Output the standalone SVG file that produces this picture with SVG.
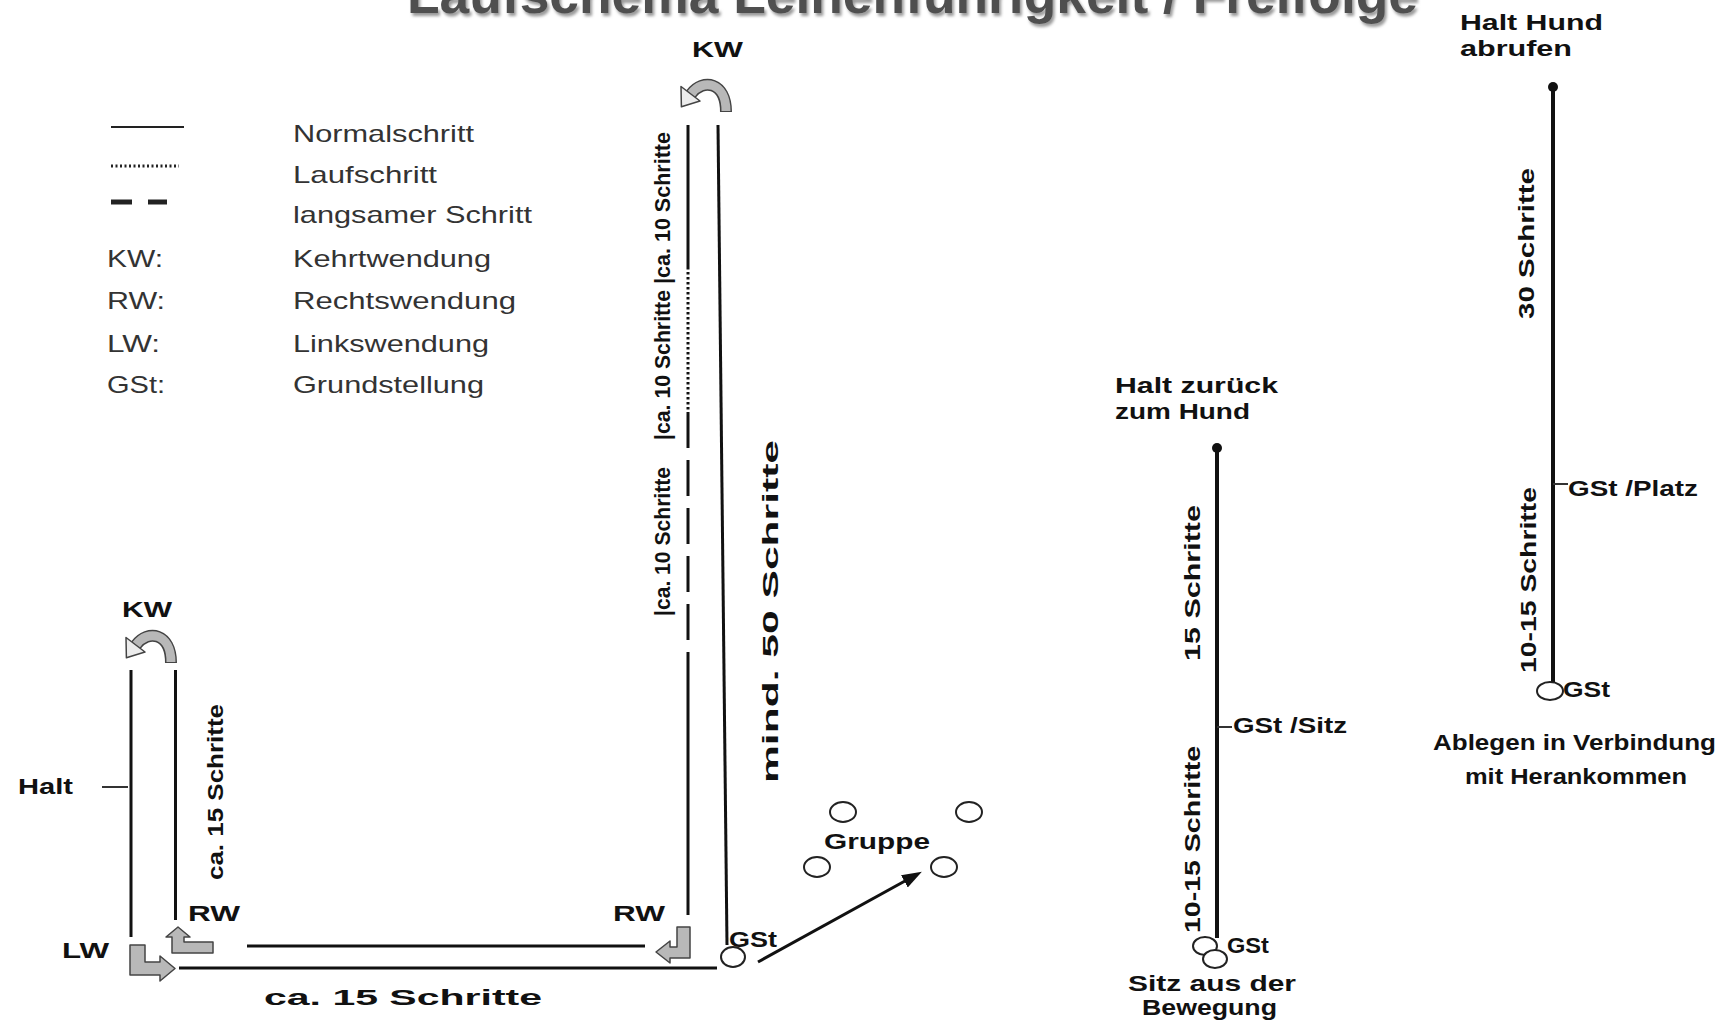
<svg xmlns="http://www.w3.org/2000/svg" width="1724" height="1021" viewBox="0 0 1724 1021">
<style>
.ln{stroke:#111;stroke-width:3;fill:none}
.thk{stroke:#111;stroke-width:4;fill:none}
.tick{stroke:#333;stroke-width:2;fill:none}
.b{font-family:"Liberation Sans",Arial,sans-serif;font-weight:bold;fill:#111;font-size:22px}
.leg{font-family:"Liberation Sans",Arial,sans-serif;fill:#333;font-size:24px}
.turn{fill:#b8b8b8;stroke:#444;stroke-width:1.5;stroke-linejoin:round}
.circ{fill:#fff;stroke:#222;stroke-width:2}
</style>
<defs>
<filter id="sh" x="-5%" y="-50%" width="110%" height="200%"><feDropShadow dx="2" dy="3" stdDeviation="1.5" flood-color="#999"/></filter>
<marker id="ah" markerUnits="userSpaceOnUse" markerWidth="20" markerHeight="16" refX="11" refY="8" orient="auto"><path d="M0,1 L20,8 L0,15 Z" fill="#111"/></marker>
<g id="uturn">
<path d="M53,30 C53,0 30,-4 18,12" fill="none" stroke="#444" stroke-width="12"/>
<path d="M53,29 C53,0 30,-4 18,12" fill="none" stroke="#b8b8b8" stroke-width="9"/>
<path d="M27,19 L8.4,24.8 L8,4.5 Z" fill="#ececec" stroke="#444" stroke-width="1.5" stroke-linejoin="round"/>
</g>
</defs>
<rect width="1724" height="1021" fill="#fff"/>

<g id="title"><text x="407" y="13" font-family="Liberation Sans, Arial, sans-serif" font-weight="bold" font-size="53" fill="#505050" textLength="1011" lengthAdjust="spacingAndGlyphs" filter="url(#sh)">Laufschema Leinenführigkeit / Freifolge</text></g>

<g id="legend">
<line x1="111" y1="127" x2="184" y2="127" stroke="#222" stroke-width="2"/>
<line x1="111" y1="166" x2="179" y2="166" stroke="#222" stroke-width="3" stroke-dasharray="2 2.5"/>
<line x1="111" y1="202" x2="132" y2="202" stroke="#222" stroke-width="5"/>
<line x1="148" y1="202" x2="167" y2="202" stroke="#222" stroke-width="5"/>
<text class="leg" x="293" y="142" textLength="181" lengthAdjust="spacingAndGlyphs">Normalschritt</text>
<text class="leg" x="293" y="183" textLength="144" lengthAdjust="spacingAndGlyphs">Laufschritt</text>
<text class="leg" x="293" y="223" textLength="239" lengthAdjust="spacingAndGlyphs">langsamer Schritt</text>
<text class="leg" x="107" y="267" textLength="56" lengthAdjust="spacingAndGlyphs">KW:</text>
<text class="leg" x="293" y="267" textLength="198" lengthAdjust="spacingAndGlyphs">Kehrtwendung</text>
<text class="leg" x="107" y="309" textLength="58" lengthAdjust="spacingAndGlyphs">RW:</text>
<text class="leg" x="293" y="309" textLength="223" lengthAdjust="spacingAndGlyphs">Rechtswendung</text>
<text class="leg" x="107" y="352" textLength="53" lengthAdjust="spacingAndGlyphs">LW:</text>
<text class="leg" x="293" y="352" textLength="196" lengthAdjust="spacingAndGlyphs">Linkswendung</text>
<text class="leg" x="107" y="393" textLength="58" lengthAdjust="spacingAndGlyphs">GSt:</text>
<text class="leg" x="293" y="393" textLength="191" lengthAdjust="spacingAndGlyphs">Grundstellung</text>
</g>

<g id="connectors">
<path class="ln" d="M688,125 V267" stroke-width="3.5"/>
<path class="ln" d="M688,267 V412" stroke-width="3.5" stroke-dasharray="2.5 2.5"/>
<path class="ln" d="M688,412 V652" stroke-width="4" stroke-dasharray="36 12"/>
<path class="ln" d="M688,652 V915"/>
<path class="ln" d="M718,125 L727,945"/>
<path class="ln" d="M131,670 V937"/>
<path class="ln" d="M175.5,670 V920"/>
<path class="ln" d="M247,946 H645"/>
<path class="ln" d="M179,968 H717"/>
<path class="tick" d="M102,787 H128"/>
<path class="ln" d="M758,962 L914,876" stroke-width="2.5" marker-end="url(#ah)"/>
<path class="thk" d="M1217,448 V938"/>
<path class="tick" d="M1217,727 H1232"/>
<path class="thk" d="M1553,87 V682"/>
<path class="tick" d="M1553,484 H1568"/>
</g>

<g id="kw-middle">
<use href="#uturn" x="673" y="82"/>
<text class="b" x="692" y="57" textLength="51" lengthAdjust="spacingAndGlyphs">KW</text>
</g>
<g id="kw-left">
<use href="#uturn" x="118" y="633"/>
<text class="b" x="122" y="617" textLength="50" lengthAdjust="spacingAndGlyphs">KW</text>
</g>
<g id="halt"><text class="b" x="18" y="794" textLength="55" lengthAdjust="spacingAndGlyphs">Halt</text></g>
<g id="lw">
<path class="turn" d="M130,945 H145 V962 H160 V956 L175,968.5 L160,981 V975 H130 Z"/>
<text class="b" x="62" y="958" textLength="47" lengthAdjust="spacingAndGlyphs">LW</text>
</g>
<g id="rw-left">
<path class="turn" d="M178,927 L190,937 H184 V942 H213 V953 H172 V937 H166 Z"/>
<text class="b" x="188" y="921" textLength="52" lengthAdjust="spacingAndGlyphs">RW</text>
</g>
<g id="rw-right">
<path class="turn" d="M677,927 H690 V958 H670 V963 L656,952 L670,941 V947 H677 Z"/>
<text class="b" x="613" y="921" textLength="52" lengthAdjust="spacingAndGlyphs">RW</text>
</g>
<g id="label-left-loop"><text class="b" font-size="33" transform="translate(223,880) rotate(-90)" textLength="176" lengthAdjust="spacingAndGlyphs">ca. 15 Schritte</text></g>
<g id="label-bottom"><text class="b" font-size="28" x="264" y="1005" textLength="278" lengthAdjust="spacingAndGlyphs">ca.  15 Schritte</text></g>
<g id="labels-middle">
<text class="b" font-size="25" transform="translate(670,284) rotate(-90)" textLength="152" lengthAdjust="spacingAndGlyphs">|ca. 10 Schritte</text>
<text class="b" font-size="25" transform="translate(670,440) rotate(-90)" textLength="150" lengthAdjust="spacingAndGlyphs">|ca. 10 Schritte</text>
<text class="b" font-size="25" transform="translate(670,616) rotate(-90)" textLength="149" lengthAdjust="spacingAndGlyphs">|ca. 10 Schritte</text>
<text class="b" font-size="42" transform="translate(778,783) rotate(-90)" textLength="343" lengthAdjust="spacingAndGlyphs">mind. 50 Schritte</text>
</g>
<g id="gst-middle">
<ellipse class="circ" cx="733" cy="957" rx="12" ry="10"/>
<text class="b" x="729" y="947" textLength="48" lengthAdjust="spacingAndGlyphs">GSt</text>
</g>
<g id="gruppe">
<ellipse class="circ" cx="843" cy="812" rx="13" ry="10"/>
<ellipse class="circ" cx="969" cy="812" rx="13" ry="10"/>
<ellipse class="circ" cx="817" cy="867" rx="13" ry="10"/>
<ellipse class="circ" cx="944" cy="867" rx="13" ry="10"/>
<text class="b" font-size="23" x="824" y="849" textLength="106" lengthAdjust="spacingAndGlyphs">Gruppe</text>
</g>

<g id="sitz">
<circle cx="1217" cy="448" r="5" fill="#111"/>
<text class="b" x="1115" y="393" textLength="163" lengthAdjust="spacingAndGlyphs">Halt zurück</text>
<text class="b" x="1115" y="419" textLength="135" lengthAdjust="spacingAndGlyphs">zum Hund</text>
<text class="b" font-size="34" transform="translate(1200,661) rotate(-90)" textLength="156" lengthAdjust="spacingAndGlyphs">15 Schritte</text>
<text class="b" x="1233" y="733" textLength="114" lengthAdjust="spacingAndGlyphs">GSt /Sitz</text>
<text class="b" font-size="34" transform="translate(1200,933) rotate(-90)" textLength="187" lengthAdjust="spacingAndGlyphs">10-15 Schritte</text>
<ellipse class="circ" cx="1205" cy="946" rx="12" ry="9"/>
<ellipse class="circ" cx="1215" cy="959" rx="12" ry="9"/>
<text class="b" x="1227" y="953" textLength="42" lengthAdjust="spacingAndGlyphs">GSt</text>
<text class="b" font-size="23" x="1128" y="991" textLength="168" lengthAdjust="spacingAndGlyphs">Sitz aus der</text>
<text class="b" font-size="23" x="1142" y="1015" textLength="135" lengthAdjust="spacingAndGlyphs">Bewegung</text>
</g>

<g id="ablegen">
<circle cx="1553" cy="87" r="5" fill="#111"/>
<text class="b" x="1460" y="30" textLength="143" lengthAdjust="spacingAndGlyphs">Halt Hund</text>
<text class="b" x="1460" y="56" textLength="112" lengthAdjust="spacingAndGlyphs">abrufen</text>
<text class="b" font-size="34" transform="translate(1534,319) rotate(-90)" textLength="151" lengthAdjust="spacingAndGlyphs">30 Schritte</text>
<text class="b" x="1568" y="496" textLength="130" lengthAdjust="spacingAndGlyphs">GSt /Platz</text>
<text class="b" font-size="34" transform="translate(1536,673) rotate(-90)" textLength="186" lengthAdjust="spacingAndGlyphs">10-15 Schritte</text>
<ellipse class="circ" cx="1550" cy="691" rx="13" ry="9"/>
<text class="b" x="1563" y="697" textLength="47" lengthAdjust="spacingAndGlyphs">GSt</text>
<text class="b" font-size="27" x="1433" y="750" textLength="283" lengthAdjust="spacingAndGlyphs">Ablegen in Verbindung</text>
<text class="b" font-size="27" x="1465" y="784" textLength="222" lengthAdjust="spacingAndGlyphs">mit Herankommen</text>
</g>
</svg>
